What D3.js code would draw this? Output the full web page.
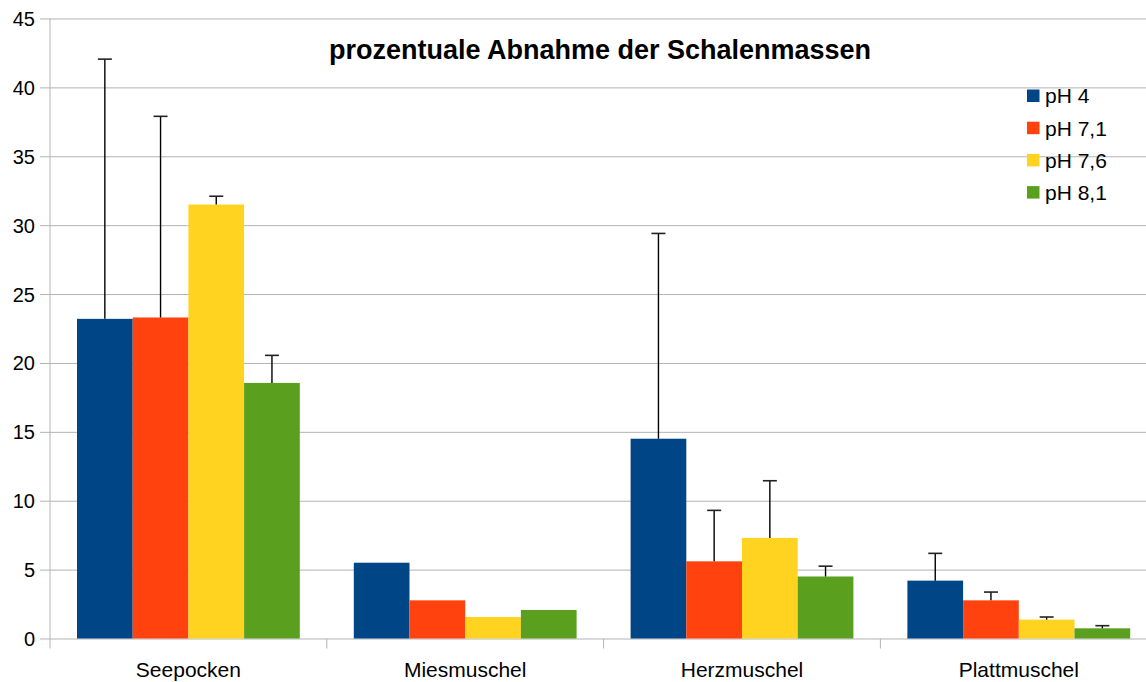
<!DOCTYPE html>
<html>
<head>
<meta charset="utf-8">
<script src="https://cdn.jsdelivr.net/npm/d3@7"></script>
<style>
  html, body { margin: 0; padding: 0; background: #fff; }
  svg { display: block; font-family: "Liberation Sans", Arial, sans-serif; }
</style>
</head>
<body>
<svg id="chart" width="1146" height="682"></svg>
<script>
const categories = ["Seepocken", "Miesmuschel", "Herzmuschel", "Plattmuschel"];
const seriesNames = ["pH 4", "pH 7,1", "pH 7,6", "pH 8,1"];
const seriesColors = ["#004586", "#ff420e", "#ffd320", "#5aa01e"];
// values per series (one entry per category)
const valuesPH4  = [23.2, 5.5, 14.5, 4.2];
const valuesPH71 = [23.3, 2.77, 5.6, 2.77];
const valuesPH76 = [31.5, 1.56, 7.3, 1.37];
const valuesPH81 = [18.55, 2.07, 4.5, 0.74];
// positive error (upper bar length)
const errorsPH4  = [18.85, 0, 14.9, 1.98];
const errorsPH71 = [14.6, 0, 3.7, 0.6];
const errorsPH76 = [0.6, 0, 4.15, 0.19];
const errorsPH81 = [2.0, 0, 0.75, 0.19];
const yTicks = [0, 5, 10, 15, 20, 25, 30, 35, 40, 45];
const titleText = "prozentuale Abnahme der Schalenmassen";

const seriesValues = [valuesPH4, valuesPH71, valuesPH76, valuesPH81];
const seriesErrors = [errorsPH4, errorsPH71, errorsPH76, errorsPH81];

const svg = d3.select("#chart");
const mLeft = 50, mTop = 18.5, mBottom = 638.5, bandW = 276.8;
const mRight = mLeft + bandW * categories.length;

const x = d3.scaleBand().domain(categories).range([mLeft, mRight]).paddingInner(0).paddingOuter(0);
const step = (x.bandwidth() - 54) / seriesNames.length;
const inner = d3.scaleBand().domain(seriesNames).range([0, x.bandwidth()]).paddingInner(0).paddingOuter(27 / step);
const y = d3.scaleLinear().domain([0, 45]).range([mBottom, mTop]);

// gridlines + y axis ticks
const yAxis = d3.axisLeft(y).tickValues(yTicks).tickSize(-(1146 - mLeft)).tickPadding(0).tickFormat(d3.format("d"));
const gy = svg.append("g").attr("transform", `translate(${mLeft},0)`).call(yAxis);
gy.select(".domain").remove();
gy.selectAll(".tick line").attr("stroke", "#b3b3b3").attr("stroke-width", 1).attr("x1", -10);
gy.selectAll(".tick text").attr("x", -15).attr("dy", "0.35em")
  .style("font-size", "20px").style("font-family", "'Liberation Sans', Arial, sans-serif").attr("fill", "#000");

// y axis line
svg.append("line").attr("x1", mLeft).attr("x2", mLeft).attr("y1", mTop).attr("y2", mBottom + 10)
  .attr("stroke", "#b3b3b3").attr("stroke-width", 1);

// x axis
const xAxis = d3.axisBottom(x).tickSize(0).tickPadding(0);
const gx = svg.append("g").attr("transform", `translate(0,${mBottom})`).call(xAxis);
gx.select(".domain").remove();
gx.selectAll(".tick text").attr("y", 38).attr("dy", 0)
  .style("font-size", "21px").style("font-family", "'Liberation Sans', Arial, sans-serif").attr("fill", "#000");
// boundary ticks
svg.append("g").selectAll("line").data(categories)
  .join("line")
  .attr("x1", d => x(d) + x.bandwidth()).attr("x2", d => x(d) + x.bandwidth())
  .attr("y1", mBottom).attr("y2", mBottom + 10)
  .attr("stroke", "#b3b3b3");

// bars
const groups = svg.append("g").selectAll("g").data(categories).join("g")
  .attr("transform", d => `translate(${x(d)},0)`);

groups.each(function(cat, ci) {
  const g = d3.select(this);
  seriesNames.forEach((s, si) => {
    const v = seriesValues[si][ci];
    g.append("rect")
      .attr("x", inner(s)).attr("width", inner.bandwidth())
      .attr("y", y(v)).attr("height", y(0) - y(v))
      .attr("fill", seriesColors[si]);
  });
});

groups.each(function(cat, ci) {
  const g = d3.select(this);
  seriesNames.forEach((s, si) => {
    const v = seriesValues[si][ci];
    const e = seriesErrors[si][ci];
    if (e <= 0) return;
    const cx = inner(s) + inner.bandwidth() / 2;
    g.append("line").attr("x1", cx).attr("x2", cx).attr("y1", y(v)).attr("y2", y(v + e))
      .attr("stroke", "#000").attr("stroke-width", 1.4);
    g.append("line").attr("x1", cx - 7).attr("x2", cx + 7).attr("y1", y(v + e)).attr("y2", y(v + e))
      .attr("stroke", "#222").attr("stroke-width", 1.6);
  });
});

// title
svg.append("text").attr("x", 600).attr("y", 58.5).attr("text-anchor", "middle")
  .style("font-size", "27px").style("font-weight", "bold").attr("fill", "#000")
  .text(titleText);

// legend
const legend = svg.append("g").attr("transform", "translate(1027,0)");
seriesNames.forEach((s, i) => {
  const cy = 96 + i * 32.2;
  legend.append("rect").attr("x", 0).attr("y", cy - 6.5).attr("width", 12.5).attr("height", 12.5).attr("fill", seriesColors[i]);
  legend.append("text").attr("x", 18).attr("y", cy).attr("dy", "0.35em")
    .style("font-size", "21px").attr("fill", "#000").text(s);
});
</script>
</body>
</html>
